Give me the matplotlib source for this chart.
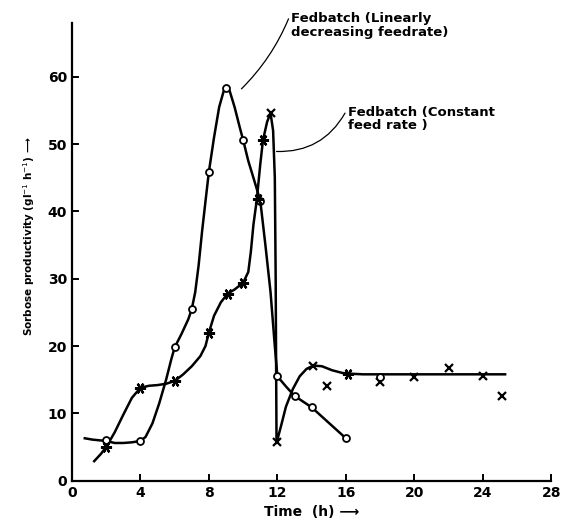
import matplotlib
matplotlib.use("Agg")
import matplotlib.pyplot as plt

plt.rcParams['font.family'] = ['DejaVu Sans']

# Linearly decreasing feedrate: measured points (open circles)
lin_t = [2, 4, 6, 7, 8, 9, 10, 11, 12, 13, 14, 16]
lin_p = [6.0, 5.9, 19.8, 25.5, 45.9, 58.4, 50.6, 41.6, 15.5, 12.6, 10.9, 6.3]
# hand-drawn curve through them
lin_curve_t = [0.75, 1.2, 1.6, 2.0, 2.5, 3.0, 3.5, 4.0, 4.3, 4.7, 5.1, 5.5, 5.8, 6.0, 6.4, 6.8,
               7.0, 7.2, 7.4, 7.6, 7.8, 8.0, 8.3, 8.6, 8.9, 9.0, 9.2, 9.5, 9.8, 10.0, 10.3,
               10.6, 11.0, 11.3, 11.6, 11.85, 12.0, 12.5, 13.0, 14.0, 15.0, 16.0]
lin_curve_p = [6.3, 6.1, 6.0, 5.9, 5.6, 5.6, 5.7, 5.9, 6.5, 8.5, 11.5, 15.0, 18.0, 19.8, 21.8, 24.0,
               25.5, 28.0, 32.0, 37.0, 41.5, 45.9, 51.0, 55.5, 58.2, 58.4, 58.0, 55.5, 52.5, 50.6, 47.5,
               45.0, 41.6, 35.0, 28.0, 20.0, 15.5, 14.0, 12.6, 10.9, 8.6, 6.3]

# Constant feed rate: asterisk points and x points
const_star_t = [2, 4, 6, 8, 9.1, 10, 10.85, 11.16, 16.1]
const_star_p = [5.0, 13.8, 14.8, 22.0, 27.8, 29.4, 41.8, 50.6, 15.9]
const_x_t = [11.6, 11.95, 14.1, 14.9, 18, 20, 22, 24, 25.1]
const_x_p = [54.6, 5.7, 17.1, 14.0, 14.6, 15.4, 16.8, 15.5, 12.6]
extra_circle_t = [18]
extra_circle_p = [15.4]
const_curve_t = [1.3, 1.7, 2.0, 2.5, 3.0, 3.5, 4.0, 4.5, 5.0, 5.5, 6.0, 6.5, 7.0, 7.5, 7.8, 8.0,
                 8.3, 8.7, 9.1, 9.5, 10.0, 10.3, 10.45, 10.6, 10.8, 11.0, 11.16, 11.4, 11.6, 11.75,
                 11.85, 11.9, 11.93, 11.95, 12.2, 12.5, 12.9, 13.3, 13.7, 14.1, 14.6, 15.2, 15.8,
                 16.2, 17.0, 22.0, 25.3]
const_curve_p = [2.9, 4.0, 5.0, 7.2, 9.8, 12.3, 13.8, 14.1, 14.2, 14.4, 14.8, 15.8, 17.0, 18.5, 20.0, 22.0,
                 24.5, 26.5, 27.8, 28.4, 29.4, 31.0, 34.0, 38.0, 41.8, 47.0, 50.6, 53.3, 54.6, 52.0,
                 45.0, 30.0, 15.0, 5.6, 8.0, 11.0, 13.6, 15.5, 16.6, 17.1, 17.0, 16.4, 16.0,
                 15.9, 15.8, 15.8, 15.8]

x_ticks = [0, 4, 8, 12, 16, 20, 24, 28]
y_ticks = [0, 10, 20, 30, 40, 50, 60]

fig = plt.figure(figsize=(5.62, 5.25), dpi=100)
ax = fig.add_axes([0.128, 0.0844, 0.853, 0.872])

ax.plot(lin_curve_t, lin_curve_p, color='black', lw=1.8, zorder=2)
ax.plot(const_curve_t, const_curve_p, color='black', lw=1.8, zorder=2)
ax.plot(lin_t, lin_p, linestyle='none', marker='o', ms=5, mfc='white', mec='black', mew=1.3, zorder=3)
ax.plot(extra_circle_t, extra_circle_p, linestyle='none', marker='o', ms=5, mfc='white', mec='black', mew=1.3, zorder=4)
ax.plot(const_star_t, const_star_p, linestyle='none', marker=(6, 2, 90), ms=8, mec='black', mew=1.6, zorder=3)
ax.plot(const_x_t, const_x_p, linestyle='none', marker='x', ms=6, mec='black', mew=1.6, zorder=3)

ax.set_xlim(0, 28)
ax.set_ylim(0, 68)
ax.spines['top'].set_visible(False)
ax.spines['right'].set_visible(False)
ax.spines['left'].set_linewidth(1.6)
ax.spines['bottom'].set_linewidth(1.6)
ax.set_xticks(x_ticks)
ax.set_yticks(y_ticks)
ax.tick_params(direction='in', length=5, width=1.4, labelsize=10)
for lab in ax.get_xticklabels() + ax.get_yticklabels():
    lab.set_fontweight('bold')

ax.set_xlabel('Time  (h) \u27f6', fontsize=10, fontweight='bold', labelpad=4)
ax.set_ylabel('Sorbose productivity (gl$^{-1}$ h$^{-1}$) \u27f6', fontsize=7.5, fontweight='bold')
ax.yaxis.set_label_coords(-0.072, 0.535)

ax.text(12.8, 69.6, 'Fedbatch (Linearly\ndecreasing feedrate)', fontsize=9.5, fontweight='bold',
        ha='left', va='top', linespacing=1.1, clip_on=False)
ax.text(16.1, 55.6, 'Fedbatch (Constant\nfeed rate )', fontsize=9.5, fontweight='bold',
        ha='left', va='top', linespacing=1.0, clip_on=False)

ax.annotate('', xy=(9.9, 58.2), xytext=(12.65, 68.6), annotation_clip=False,
            arrowprops=dict(arrowstyle='-', lw=0.9, color='black', shrinkA=0, shrinkB=0,
                            connectionstyle='arc3,rad=-0.1'))
ax.annotate('', xy=(11.95, 48.9), xytext=(15.95, 54.6), annotation_clip=False,
            arrowprops=dict(arrowstyle='-', lw=0.9, color='black', shrinkA=0, shrinkB=0,
                            connectionstyle='arc3,rad=-0.3'))

fig.savefig('out.png', dpi=100)
